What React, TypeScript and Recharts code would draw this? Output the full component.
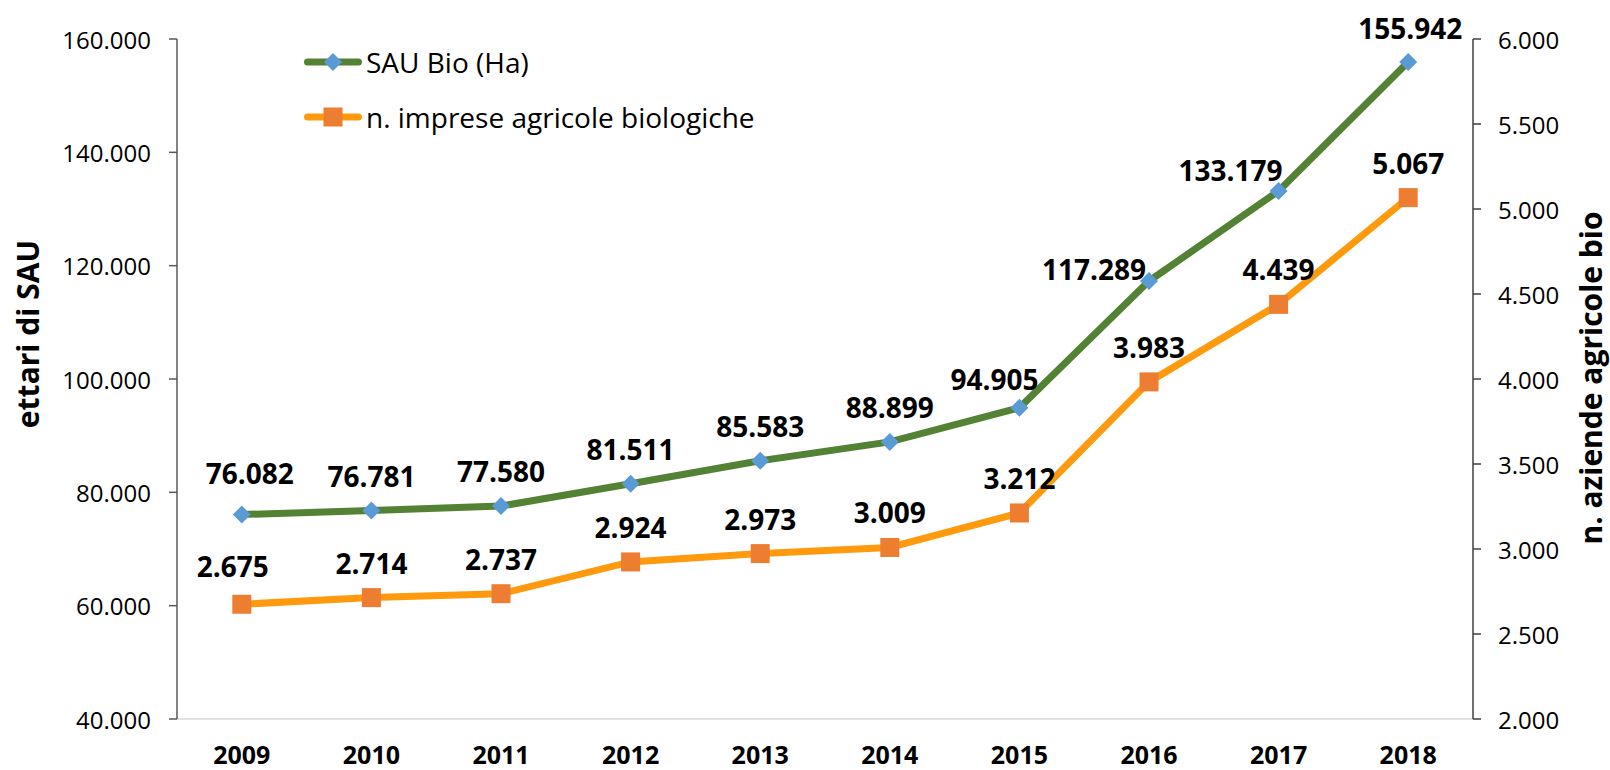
import React from "react";
import {
  LineChart,
  Line,
  XAxis,
  YAxis,
  Legend,
  LabelList,
  Label,
} from "recharts";

// ─── data ─────────────────────────────────────────────────────────────────────

const years = ["2009", "2010", "2011", "2012", "2013", "2014", "2015", "2016", "2017", "2018"];
const sauBio = [76082, 76781, 77580, 81511, 85583, 88899, 94905, 117289, 133179, 155942];
const imprese = [2675, 2714, 2737, 2924, 2973, 3009, 3212, 3983, 4439, 5067];

const leftTicks = [40000, 60000, 80000, 100000, 120000, 140000, 160000];
const rightTicks = [2000, 2500, 3000, 3500, 4000, 4500, 5000, 5500, 6000];

const data = years.map((year, i) => ({ year, sau: sauBio[i], imprese: imprese[i] }));

// label nudges (dx, dy from point to label centre), mimicking hand-placed Excel labels
const sauNudge: Record<number, [number, number]> = {
  0: [8, -42],
  6: [-25, -29],
  7: [-55, -12],
  8: [-48, -21],
  9: [2, -34],
};
const impreseNudge: Record<number, [number, number]> = {
  0: [-9, -38],
};

// ─── styles ───────────────────────────────────────────────────────────────────

const FONT = "'Open Sans', 'Noto Sans', sans-serif";
const GREEN = "#548235";
const BLUE = "#5B9BD5";
const ORANGE_LINE = "#FF9A0E";
const ORANGE_MARK = "#ED7D31";

const fmt = (v: number) => String(v).replace(/\B(?=(\d{3})+(?!\d))/g, ".");

if (typeof document !== "undefined") document.body.style.margin = "0";

// ─── markers ──────────────────────────────────────────────────────────────────

function Diamond({ cx, cy }: { cx?: number; cy?: number }) {
  if (cx == null || cy == null) return null;
  const r = 9;
  return (
    <path
      d={`M${cx},${cy - r}L${cx + r},${cy}L${cx},${cy + r}L${cx - r},${cy}Z`}
      fill={BLUE}
    />
  );
}

function Square({ cx, cy }: { cx?: number; cy?: number }) {
  if (cx == null || cy == null) return null;
  const s = 19;
  return <rect x={cx - s / 2} y={cy - s / 2} width={s} height={s} fill={ORANGE_MARK} />;
}

// ─── labels & ticks ───────────────────────────────────────────────────────────

function makeLabel(nudge: Record<number, [number, number]>) {
  return (props: any) => {
    const { x, y, value, index } = props;
    const [dx, dy] = nudge[index] ?? [0, -35];
    return (
      <text
        x={x + dx}
        y={y + dy}
        textAnchor="middle"
        dominantBaseline="central"
        fontFamily={FONT}
        fontWeight={700}
        fontSize={28}
        fill="#000"
      >
        {fmt(Number(value))}
      </text>
    );
  };
}

function LeftTick({ x, y, payload }: any) {
  return (
    <text x={x} y={y} textAnchor="end" dominantBaseline="central" fontFamily={FONT} fontSize={24} fill="#000">
      {fmt(payload.value)}
    </text>
  );
}

function RightTick({ x, y, payload }: any) {
  return (
    <text x={x} y={y} textAnchor="start" dominantBaseline="central" fontFamily={FONT} fontSize={24} fill="#000">
      {fmt(payload.value)}
    </text>
  );
}

function YearTick({ x, y, payload }: any) {
  return (
    <text x={x} y={y + 35} textAnchor="middle" dominantBaseline="central" fontFamily={FONT} fontWeight={700} fontSize={25} fill="#000">
      {payload.value}
    </text>
  );
}

// ─── legend ───────────────────────────────────────────────────────────────────

const legendItems = [
  { name: "SAU Bio (Ha)", line: GREEN, marker: "diamond" },
  { name: "n. imprese agricole biologiche", line: ORANGE_LINE, marker: "square" },
];

function LegendContent() {
  return (
    <div style={{ fontFamily: FONT, fontSize: 28, color: "#000" }}>
      {legendItems.map((it) => (
        <div key={it.name} style={{ display: "flex", alignItems: "center", height: 55 }}>
          <svg width={66} height={24} style={{ flexShrink: 0 }}>
            <line x1={7.5} x2={58.5} y1={12} y2={12} stroke={it.line} strokeWidth={7} strokeLinecap="round" />
            {it.marker === "diamond" ? (
              <path d="M33,3L42,12L33,21L24,12Z" fill={BLUE} />
            ) : (
              <rect x={23.5} y={2.5} width={19} height={19} fill={ORANGE_MARK} />
            )}
          </svg>
          <span style={{ whiteSpace: "nowrap", lineHeight: 1 }}>{it.name}</span>
        </div>
      ))}
    </div>
  );
}

// ─── main component ───────────────────────────────────────────────────────────

export default function App() {
  return (
    <div style={{ width: 1610, height: 770, background: "#fff" }}>
      <LineChart
        width={1610}
        height={770}
        data={data}
        margin={{ top: 39, right: 37, bottom: 6, left: 57 }}
      >
        <XAxis
          dataKey="year"
          padding={{ left: 64.8, right: 64.8 }}
          axisLine={{ stroke: "#D9D9D9", strokeWidth: 1.5 }}
          tickLine={false}
          tickSize={0}
          tickMargin={0}
          height={45}
          interval={0}
          tick={<YearTick />}
        />
        <YAxis
          yAxisId="left"
          width={120}
          domain={[40000, 160000]}
          ticks={leftTicks}
          interval={0}
          axisLine={{ stroke: "#595959", strokeWidth: 1.5 }}
          tickLine={{ stroke: "#595959", strokeWidth: 1.5 }}
          tickSize={8}
          tickMargin={18}
          tick={<LeftTick />}
        >
          <Label
            content={() => (
              <text
                x={27}
                y={334}
                transform="rotate(-90 27 334)"
                textAnchor="middle"
                dominantBaseline="central"
                fontFamily={FONT}
                fontWeight={700}
                fontSize={30}
                fill="#000"
              >
                ettari di SAU
              </text>
            )}
          />
        </YAxis>
        <YAxis
          yAxisId="right"
          orientation="right"
          width={100}
          domain={[2000, 6000]}
          ticks={rightTicks}
          interval={0}
          axisLine={{ stroke: "#404040", strokeWidth: 1.5 }}
          tickLine={{ stroke: "#404040", strokeWidth: 1.5 }}
          tickSize={8}
          tickMargin={17}
          tick={<RightTick />}
        >
          <Label
            content={() => (
              <text
                x={1590}
                y={378}
                transform="rotate(-90 1590 378)"
                textAnchor="middle"
                dominantBaseline="central"
                fontFamily={FONT}
                fontWeight={700}
                fontSize={30}
                fill="#000"
              >
                n. aziende agricole bio
              </text>
            )}
          />
        </YAxis>
        <Legend
          layout="vertical"
          align="center"
          verticalAlign="middle"
          content={<LegendContent />}
          wrapperStyle={{ left: 300, top: 34, width: 500, height: 110 }}
        />
        <Line
          yAxisId="right"
          dataKey="imprese"
          name="n. imprese agricole biologiche"
          stroke={ORANGE_LINE}
          strokeWidth={7}
          dot={<Square />}
          activeDot={false}
          isAnimationActive={false}
        >
          <LabelList dataKey="imprese" content={makeLabel(impreseNudge)} />
        </Line>
        <Line
          yAxisId="left"
          dataKey="sau"
          name="SAU Bio (Ha)"
          stroke={GREEN}
          strokeWidth={7}
          dot={<Diamond />}
          activeDot={false}
          isAnimationActive={false}
        >
          <LabelList dataKey="sau" content={makeLabel(sauNudge)} />
        </Line>
      </LineChart>
    </div>
  );
}
